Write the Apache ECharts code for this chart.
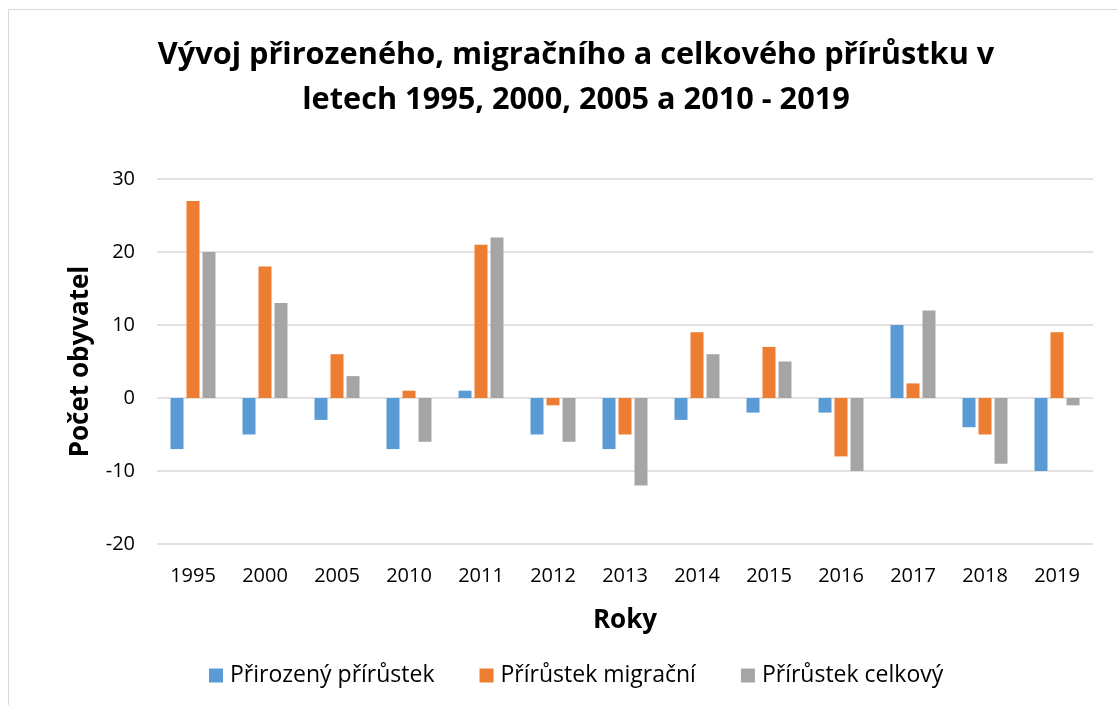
<!DOCTYPE html>
<html><head><meta charset="utf-8">
<script src="https://cdn.jsdelivr.net/npm/echarts@6/dist/echarts.min.js"></script>
<style>
html,body{margin:0;padding:0;background:#fff;}
#frame{position:absolute;left:8px;top:9px;width:1200px;height:800px;border:1.5px solid #d9d9d9;box-sizing:border-box;}
#c{position:absolute;left:0;top:0;width:1117px;height:705px;}
</style></head>
<body>
<div id="frame"></div>
<div id="c"></div>
<script>
const categories = ['1995','2000','2005','2010','2011','2012','2013','2014','2015','2016','2017','2018','2019'];
const prirozeny = [-7,-5,-3,-7,1,-5,-7,-3,-2,-2,10,-4,-10];
const migracni  = [27,18,6,1,21,-1,-5,9,7,-8,2,-5,9];
const celkovy   = [20,13,3,-6,22,-6,-12,6,5,-10,12,-9,-1];
const seriesNames = ['Přirozený přírůstek','Přírůstek migrační','Přírůstek celkový'];
const colors = ['#5b9bd5','#ed7d31','#a5a5a5'];
const FONT = 'Open Sans';
const chart = echarts.init(document.getElementById('c'));
chart.setOption({
  animation:false,
  color:colors,
  title:{
    text:'Vývoj přirozeného, migračního a celkového přírůstku v\nletech 1995, 2000, 2005 a 2010 - 2019',
    left:571, top:28, textAlign:'center',
    textStyle:{fontFamily:FONT,fontWeight:'bold',fontSize:30.7,color:'#000',lineHeight:45}
  },
  legend:{
    top:659, left:204, itemWidth:14, itemHeight:14, itemGap:45,
    icon:'rect',
    textStyle:{fontFamily:FONT,fontSize:23,color:'#000',padding:[0,0,0,2]},
    data:seriesNames
  },
  grid:{left:157,right:24,top:179,bottom:161},
  xAxis:{
    type:'category', data:categories,
    name:'Roky', nameLocation:'middle', nameGap:64,
    nameTextStyle:{fontFamily:FONT,fontWeight:'bold',fontSize:26,color:'#000'},
    axisLine:{show:false}, axisTick:{show:false},
    axisLabel:{fontFamily:FONT,fontSize:20,color:'#000',margin:22},
    position:'bottom'
  },
  yAxis:{
    type:'value', min:-20, max:30, interval:10,
    name:'Počet obyvatel', nameLocation:'middle', nameGap:63,
    nameTextStyle:{fontFamily:FONT,fontWeight:'bold',fontSize:26,color:'#000'},
    axisLine:{show:false}, axisTick:{show:false},
    axisLabel:{fontFamily:FONT,fontSize:20,color:'#000',margin:22},
    splitLine:{lineStyle:{color:'#d9d9d9',width:1.5}}
  },
  series:[
    {name:seriesNames[0],type:'bar',data:prirozeny,barGap:'23%',barCategoryGap:'37.5%'},
    {name:seriesNames[1],type:'bar',data:migracni,barGap:'23%',barCategoryGap:'37.5%'},
    {name:seriesNames[2],type:'bar',data:celkovy,barGap:'23%',barCategoryGap:'37.5%'}
  ]
});
</script>
</body></html>
